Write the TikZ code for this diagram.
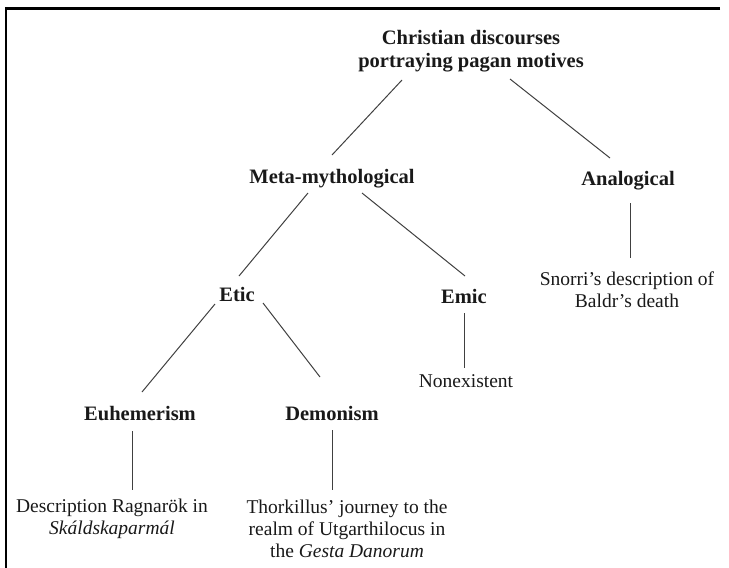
\documentclass[tikz,border=0pt]{standalone}
\usepackage{fontspec}
\setmainfont{Liberation Serif}
\begin{document}
\begin{tikzpicture}[x=1pt,y=-1pt,
  hd/.style={font=\fontsize{20.5}{23}\selectfont\bfseries, align=center, inner sep=0pt, outer sep=0pt, text=black!90},
  tx/.style={font=\fontsize{19.5}{22}\selectfont, align=center, inner sep=0pt, outer sep=0pt, text=black!90},
  conn/.style={draw=black!75, line width=1pt},
  frameline/.style={draw=black, line width=2.5pt}]
\useasboundingbox (0,0) rectangle (729,568);
\draw[frameline] (720,8.5) -- (6,8.5) -- (6,569);

\node[hd] (top) at (471,51) {Christian discourses\\portraying pagan motives};
\node[hd] (meta) at (332,179) {Meta-mythological};
\node[hd] (analog) at (628,181) {Analogical};
\node[hd] (etic) at (237,294) {Etic};
\node[hd] (emic) at (464,296) {Emic};
\node[hd] (euhem) at (140,414) {Euhemerism};
\node[hd] (demon) at (332,413) {Demonism};
\node[tx] (rag) at (112,519) {Description Ragnarök in\\\textit{Skáldskaparmál}};
\node[tx] (thork) at (347,529) {Thorkillus’ journey to the\\realm of Utgarthilocus in\\the \textit{Gesta Danorum}};
\node[tx] (nonex) at (466,381) {Nonexistent};
\node[tx] (snorri) at (627,290) {Snorri’s description of\\Baldr’s death};

\draw[conn] ([shift={(-69pt,-29pt)}]top.center) -- ([shift={(0pt,24pt)}]meta.center);
\draw[conn] ([shift={(39pt,-28pt)}]top.center) -- ([shift={(-18pt,23pt)}]analog.center);
\draw[conn] ([shift={(-24pt,-14pt)}]meta.center) -- ([shift={(2pt,18pt)}]etic.center);
\draw[conn] ([shift={(30pt,-14pt)}]meta.center) -- ([shift={(1pt,20pt)}]emic.center);
\draw[conn] ([shift={(-22pt,-10pt)}]etic.center) -- ([shift={(2pt,22pt)}]euhem.center);
\draw[conn] ([shift={(26pt,-9pt)}]etic.center) -- ([shift={(-12pt,36pt)}]demon.center);
\draw[conn] ([shift={(-8pt,-17pt)}]euhem.center) -- ([shift={(20pt,29pt)}]rag.center);
\draw[conn] ([shift={(0pt,-17pt)}]demon.center) -- ([shift={(-15pt,39pt)}]thork.center);
\draw[conn] ([shift={(0pt,-17pt)}]emic.center) -- ([shift={(-2pt,13pt)}]nonex.center);
\draw[conn] ([shift={(2pt,-22pt)}]analog.center) -- ([shift={(3pt,32pt)}]snorri.center);
\end{tikzpicture}
\end{document}
